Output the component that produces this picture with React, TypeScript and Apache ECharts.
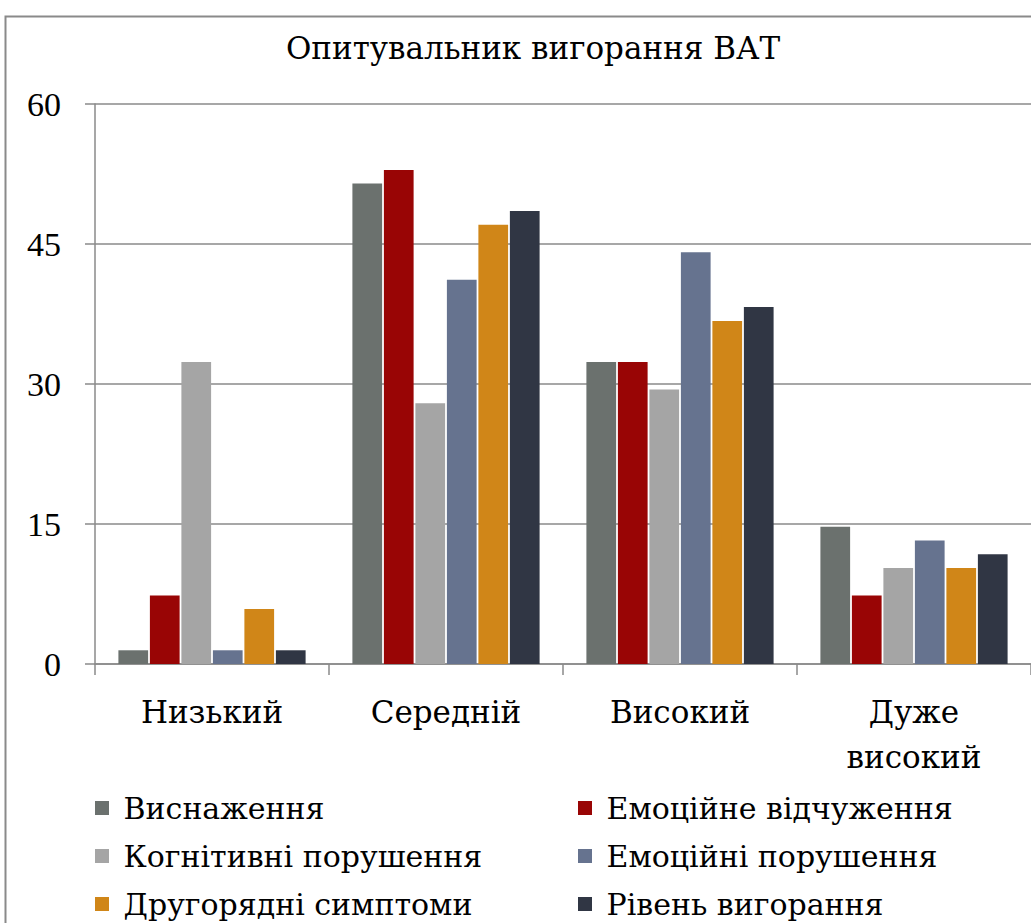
import React, { useEffect, useRef } from "react";
import * as echarts from "echarts";

const categories = ["Низький", "Середній", "Високий", "Дуже\nвисокий"];
const seriesNames = [
  "Виснаження",
  "Емоційне відчуження",
  "Когнітивні порушення",
  "Емоційні порушення",
  "Другорядні симптоми",
  "Рівень вигорання",
];
const exhaustion = [1.47, 51.47, 32.35, 14.71];
const emotionalDistance = [7.35, 52.94, 32.35, 7.35];
const cognitive = [32.35, 27.94, 29.41, 10.29];
const emotionalImpairment = [1.47, 41.18, 44.12, 13.24];
const secondary = [5.88, 47.06, 36.76, 10.29];
const burnoutLevel = [1.47, 48.53, 38.24, 11.76];
const yTicks = [0, 15, 30, 45, 60];

const colors = ["#6b716e", "#990505", "#a5a5a5", "#66738f", "#d08618", "#303644"];
const NUM_FONT = "Liberation Serif";
const FONT = "DejaVu Serif";

export default function App() {
  const ref = useRef<HTMLDivElement>(null);
  useEffect(() => {
    if (!ref.current) return;
    const chart = echarts.init(ref.current, undefined, { renderer: "svg" });
    const values = [exhaustion, emotionalDistance, cognitive, emotionalImpairment, secondary, burnoutLevel];
    const legendText = { fontFamily: FONT, fontSize: 30, color: "#000", lineHeight: 34 };
    const legendBase = {
      orient: "vertical",
      top: 791,
      padding: 0,
      icon: "rect",
      itemWidth: 14,
      itemHeight: 14,
      itemGap: 14,
      formatter: (n: string) => " " + n,
      textStyle: legendText,
    };
    chart.setOption({
      animation: false,
      backgroundColor: "#fff",
      color: colors,
      title: {
        text: "Опитувальник вигорання ВАТ",
        left: 528,
        top: 27,
        textAlign: "center",
        textStyle: { fontFamily: FONT, fontSize: 31, fontWeight: "normal", color: "#000" },
      },
      graphic: [
        {
          type: "rect",
          shape: { x: 5.5, y: 16.5, width: 1060, height: 940 },
          style: { fill: "none", stroke: "#8a8a8a", lineWidth: 2 },
          silent: true,
        },
      ],
      legend: [
        { ...legendBase, left: 95, data: [seriesNames[0], seriesNames[2], seriesNames[4]] },
        { ...legendBase, left: 578, data: [seriesNames[1], seriesNames[3], seriesNames[5]] },
      ],
      grid: { left: 95, top: 104, bottom: 259, right: -8, containLabel: false },
      xAxis: {
        type: "category",
        data: categories,
        axisLine: { lineStyle: { color: "#8a8a8a", width: 1.5 } },
        axisTick: { show: true, length: 11, interval: 0, lineStyle: { color: "#8a8a8a", width: 1.5 } },
        axisLabel: {
          fontFamily: FONT,
          fontSize: 31,
          color: "#000",
          margin: 25,
          lineHeight: 45,
          interval: 0,
        },
      },
      yAxis: {
        type: "value",
        min: yTicks[0],
        max: yTicks[yTicks.length - 1],
        interval: 15,
        axisLine: { show: true, lineStyle: { color: "#8a8a8a", width: 1.5 } },
        axisTick: { show: true, length: 10, lineStyle: { color: "#8a8a8a", width: 1.5 } },
        axisLabel: { fontFamily: NUM_FONT, fontSize: 34, color: "#000", margin: 34 },
        splitLine: { lineStyle: { color: "#8a8a8a", width: 1.5 } },
      },
      series: values.map((v, i) => ({
        name: seriesNames[i],
        type: "bar",
        data: v,
        barCategoryGap: "20%",
        barGap: "6%",
        itemStyle: { color: colors[i] },
      })),
    });
    return () => chart.dispose();
  }, []);
  return (
    <div
      ref={ref}
      style={{ position: "fixed", left: 0, top: 0, width: 1031, height: 923 }}
    />
  );
}
